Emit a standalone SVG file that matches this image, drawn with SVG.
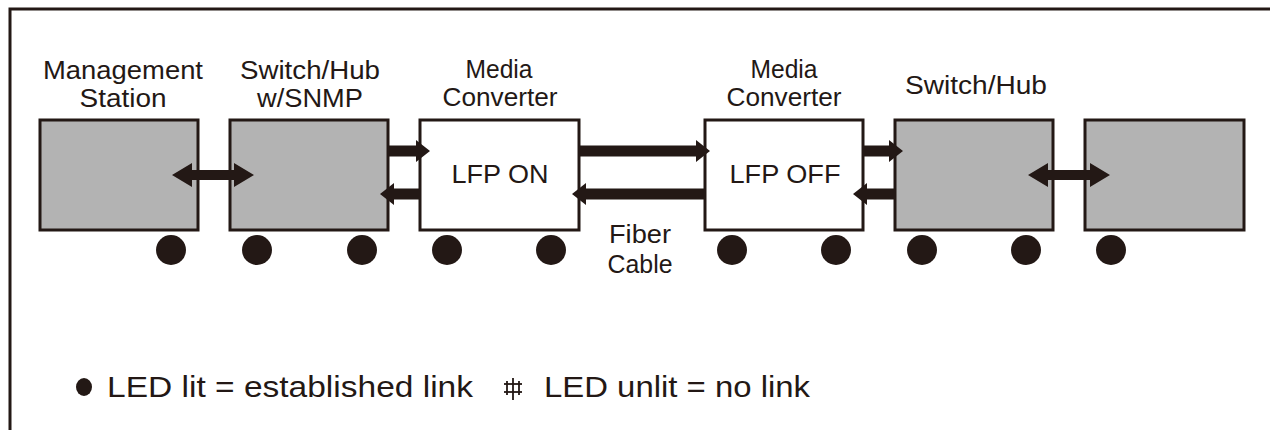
<svg xmlns="http://www.w3.org/2000/svg" width="1270" height="430" viewBox="0 0 1270 430">
<style>
.lbl{font-family:"Liberation Sans",Arial,sans-serif;font-size:25px;fill:#231815;text-anchor:middle}
.leg{font-family:"Liberation Sans",Arial,sans-serif;font-size:29px;fill:#231815}
.grey{fill:#b3b3b3;stroke:#231815;stroke-width:3}
.white{fill:#ffffff;stroke:#231815;stroke-width:3}
.led{fill:#231815}
.arr{fill:#231815}
</style>
<rect width="1270" height="430" fill="#ffffff"/>
<rect x="10" y="9" width="1300" height="500" fill="none" stroke="#231815" stroke-width="3"/>

<g id="management-station">
<rect class="grey" x="40" y="120" width="158" height="110"/>
<text class="lbl" x="123" y="79" textLength="160" lengthAdjust="spacingAndGlyphs">Management</text>
<text class="lbl" x="123" y="107" textLength="87" lengthAdjust="spacingAndGlyphs">Station</text>
<circle class="led" cx="171" cy="250" r="15"/>
</g>

<g id="switch-hub-snmp">
<rect class="grey" x="230" y="120" width="158" height="110"/>
<text class="lbl" x="310" y="79" textLength="140" lengthAdjust="spacingAndGlyphs">Switch/Hub</text>
<text class="lbl" x="310" y="107" textLength="106" lengthAdjust="spacingAndGlyphs">w/SNMP</text>
<circle class="led" cx="257" cy="250" r="15"/>
<circle class="led" cx="362" cy="250" r="15"/>
</g>

<g id="media-converter-on">
<rect class="white" x="420" y="120" width="159" height="110"/>
<text class="lbl" x="499" y="78" textLength="67" lengthAdjust="spacingAndGlyphs">Media</text>
<text class="lbl" x="500" y="106" textLength="115" lengthAdjust="spacingAndGlyphs">Converter</text>
<text class="lbl" x="500" y="183" textLength="97" lengthAdjust="spacingAndGlyphs">LFP ON</text>
<circle class="led" cx="447" cy="250" r="15"/>
<circle class="led" cx="551" cy="250" r="15"/>
</g>

<g id="fiber-cable">
<text class="lbl" x="640" y="243" textLength="62" lengthAdjust="spacingAndGlyphs">Fiber</text>
<text class="lbl" x="640" y="273" textLength="65" lengthAdjust="spacingAndGlyphs">Cable</text>
</g>

<g id="media-converter-off">
<rect class="white" x="705" y="120" width="158" height="110"/>
<text class="lbl" x="784" y="78" textLength="67" lengthAdjust="spacingAndGlyphs">Media</text>
<text class="lbl" x="784" y="106" textLength="115" lengthAdjust="spacingAndGlyphs">Converter</text>
<text class="lbl" x="785" y="183" textLength="111" lengthAdjust="spacingAndGlyphs">LFP OFF</text>
<circle class="led" cx="732" cy="250" r="15"/>
<circle class="led" cx="836" cy="250" r="15"/>
</g>

<g id="switch-hub">
<rect class="grey" x="895" y="120" width="158" height="110"/>
<text class="lbl" x="976" y="94" textLength="142" lengthAdjust="spacingAndGlyphs">Switch/Hub</text>
<circle class="led" cx="922" cy="250" r="15"/>
<circle class="led" cx="1026" cy="250" r="15"/>
</g>

<g id="end-device">
<rect class="grey" x="1085" y="120" width="159" height="110"/>
<circle class="led" cx="1111" cy="250" r="15"/>
</g>

<g id="connectors">
<polygon class="arr" points="172,175 192,163 192,170 234,170 234,163 254,175 234,187 234,180 192,180 192,187"/>
<polygon class="arr" points="1028,175 1048,163 1048,170 1090,170 1090,163 1110,175 1090,187 1090,180 1048,180 1048,187"/>
<polygon class="arr" points="388,145.5 416,145.5 416,140 430,151 416,162 416,156.5 388,156.5"/>
<polygon class="arr" points="420,188.5 394,188.5 394,183 380,194 394,205 394,199.5 420,199.5"/>
<polygon class="arr" points="579,145.5 696,145.5 696,140 710,151 696,162 696,156.5 579,156.5"/>
<polygon class="arr" points="705,188.5 586,188.5 586,183 572,194 586,205 586,199.5 705,199.5"/>
<polygon class="arr" points="863,145.5 889,145.5 889,140 903,151 889,162 889,156.5 863,156.5"/>
<polygon class="arr" points="895,188.5 867,188.5 867,183 853,194 867,205 867,199.5 895,199.5"/>
</g>

<g id="legend">
<ellipse class="led" cx="84" cy="387" rx="8" ry="9"/>
<text class="leg" x="107" y="397" textLength="366" lengthAdjust="spacingAndGlyphs">LED lit = established link</text>
<g stroke="#231815" stroke-width="1.8" fill="none">
<line x1="504" y1="384" x2="522" y2="384"/>
<line x1="504" y1="392" x2="522" y2="392"/>
<line x1="507" y1="381" x2="507" y2="395"/>
<line x1="519" y1="381" x2="519" y2="395"/>
<line x1="513" y1="378" x2="513" y2="400"/>
</g>
<text class="leg" x="544" y="397" textLength="266" lengthAdjust="spacingAndGlyphs">LED unlit = no link</text>
</g>
</svg>
